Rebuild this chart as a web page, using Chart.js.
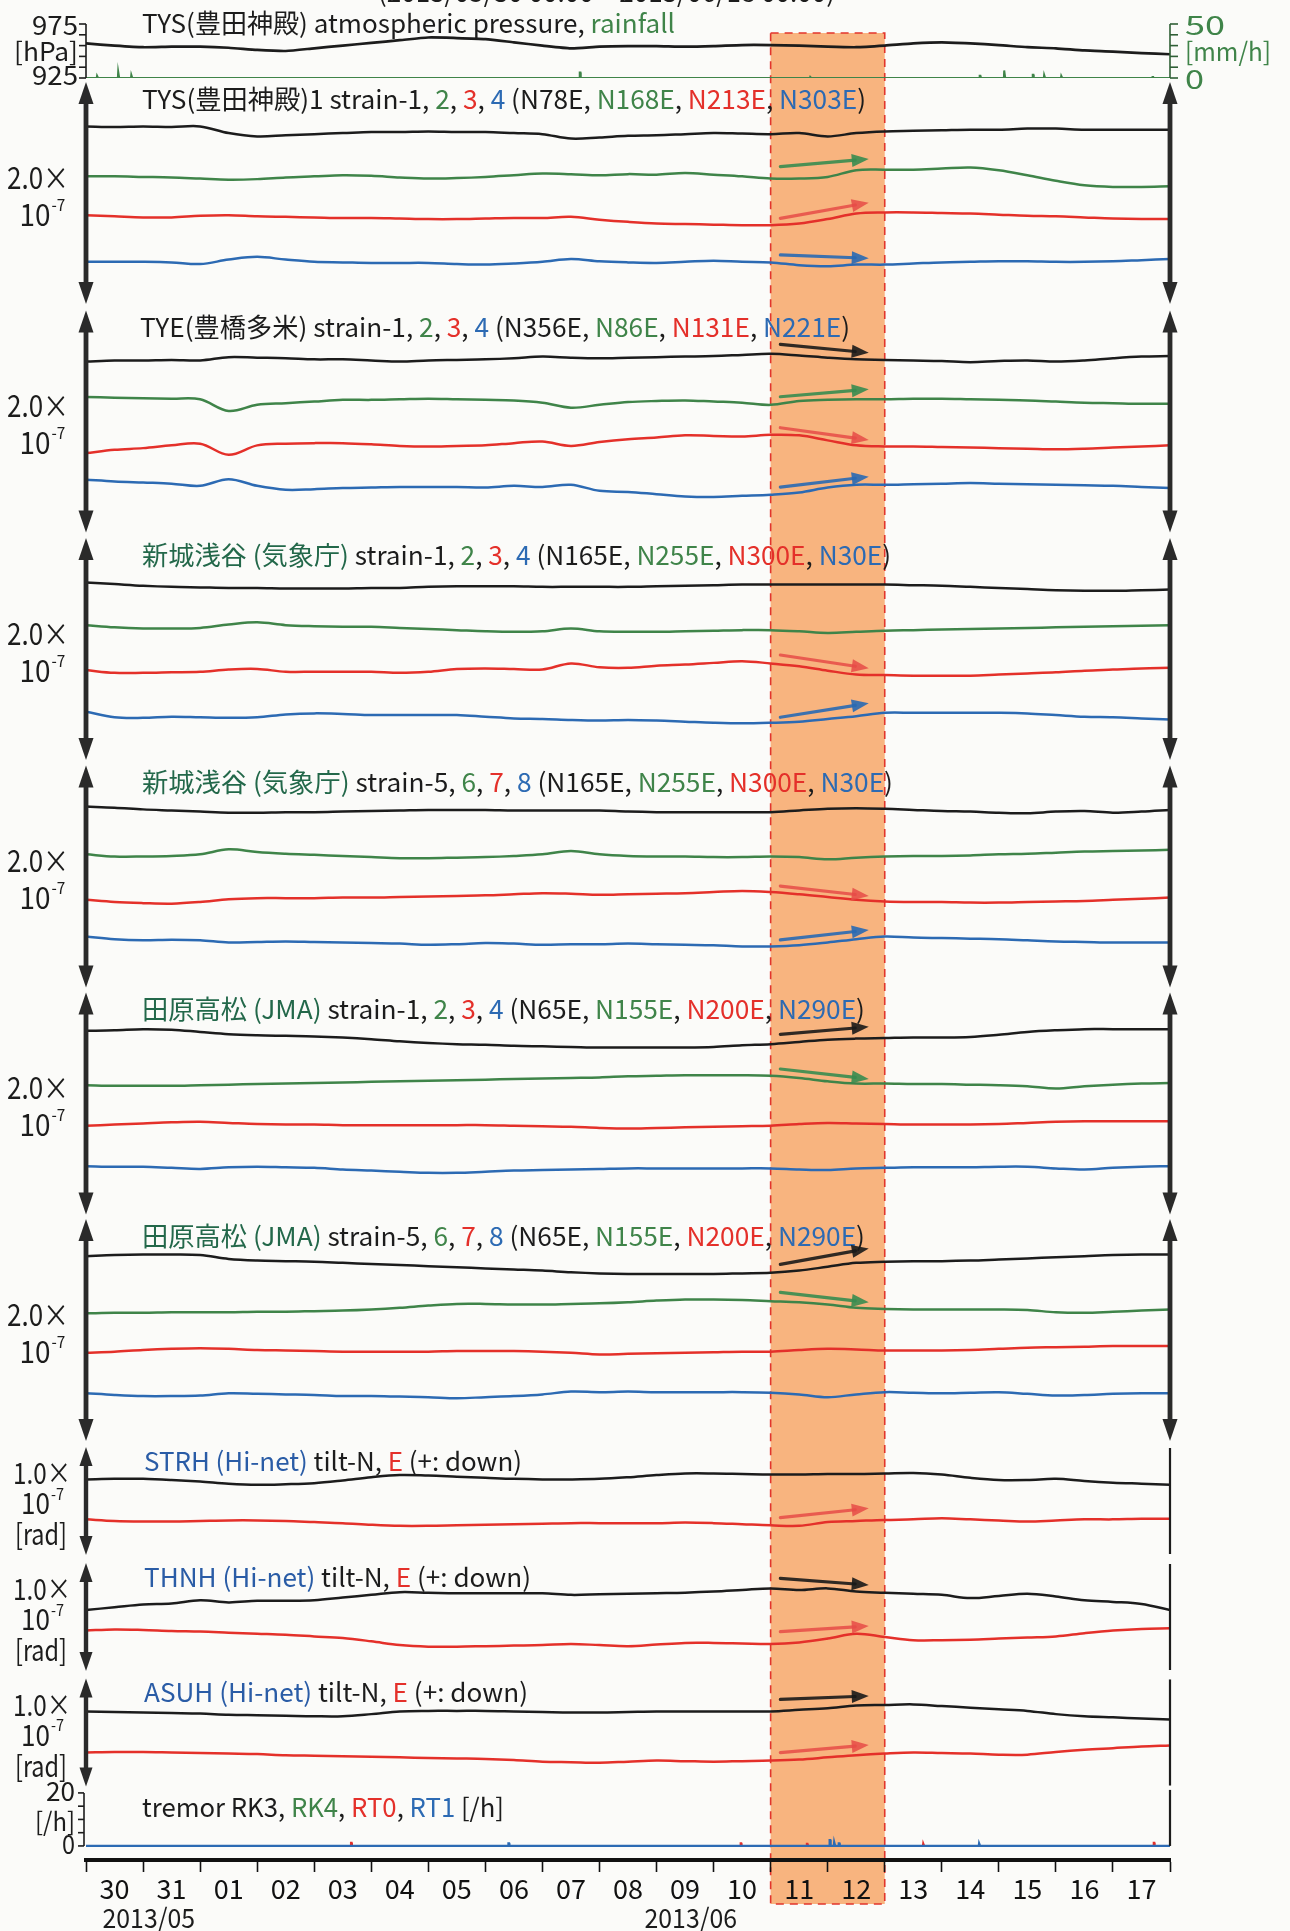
<!DOCTYPE html>
<html>
<head>
<meta charset="utf-8">
<title>TYS / TYE / 新城浅谷 / 田原高松 strain, Hi-net tilt, tremor 2013/05/30 – 2013/06/18</title>
<script src="https://cdn.jsdelivr.net/npm/chart.js@4.4.1/dist/chart.umd.min.js"></script>
<style>
html,body{margin:0;padding:0;background:#fbfbf9;}
canvas{display:block;}
</style>
</head>
<body>
<canvas id="chart" width="1290" height="1931"></canvas>
<script>
// ---------------- DATA ----------------
// time axis: days since 2013-05-30 00:00 (half-day sampling)
const t = [0,0.5,1,1.5,2,2.5,3,3.5,4,4.5,5,5.5,6,6.5,7,7.5,8,8.5,9,9.5,10,10.5,11,11.5,12,12.5,13,13.5,14,14.5,15,15.5,16,16.5,17,17.5,18,18.5,19];
const dayLabels = ['30','31','01','02','03','04','05','06','07','08','09','10','11','12','13','14','15','16','17'];
const monthLabels = ['2013/05','2013/06'];
const monthLabelDays = [1.1, 10.6];
const eventFrom = 12, eventTo = 14;   // highlighted period (2013/06/11 – 06/12)

// TYS atmospheric pressure [hPa]
const pressure = [957,955,953.5,954,954,953,951,950,952.5,955,957.5,960,962.5,962,961,958,955,952.5,954,954.5,954.5,954,954.5,955.5,955.5,955,954,953.5,955,957,958,957,955.5,953.5,952.5,950.5,949.5,948,947];
// TYS rainfall [mm/h]
const rainT  = [0.2,0.57,0.8,8.66,12.7,15.67,16.1,16.6,16.8,17.1,18.7];
const rainMm = [2,6,3,5,1,2,7,3,3,2,1];

// strain traces [1e-9], each trace offset inside its panel
const tys1 = [60,59.5,60,59.5,60,54,51,52,53,54,55,55,55.5,55,55,54,53,49,50,51.5,52,53,54,53.5,53,54,51,54,55.5,56,56.5,57,57,58,58,57,57,57,57];
const tys2 = [15,15,14.5,14,13,12,12.5,14,15,16,15.5,14,13,13.5,14.5,16,17.5,17,16,17,16.5,18,16.5,15,13,13,14.5,20.5,21,21,22,23,20.5,16,11,7,5.5,5.5,6];
const tys3 = [-20,-21,-22,-22,-20.5,-20,-21,-21.5,-22,-22.5,-22.5,-23,-23.5,-23.5,-23,-22.5,-22.5,-21.5,-24,-26,-27.5,-28,-28.5,-29,-29,-27.5,-23.5,-18.5,-17.5,-17.5,-18,-18.5,-19.5,-20.5,-21,-22,-23,-23.5,-23.5];
const tys4 = [-62,-62,-62,-62.5,-64,-60,-57.5,-60,-62,-62.5,-63,-63,-63,-64,-64.5,-63.5,-62,-59.5,-61.5,-62.5,-63,-62,-61,-62,-62.5,-65,-66,-64.5,-64.5,-63.5,-62.5,-62,-61.5,-61.5,-62,-62,-61.5,-60.5,-59.5];

const tye1 = [54,55,55,55.5,55,58,57.5,57,56,56,55,54,55,55.5,56,57,58.5,57.5,57,57.5,58,58.5,59,60,61,59.5,57.5,56,55.5,55,54.5,53.5,54.5,55,54,55,57,58.5,59];
const tye2 = [22,21.5,21,20.5,20,9.5,15,16.5,18,19.5,19.5,20,20.5,20,19.5,19,17,12.5,15,17.5,18.5,19,18,17,15,18.5,19.5,20,20,20.5,20.5,20,19.5,19,18,17,16.5,16,16];
const tye3 = [-28.5,-25.5,-24,-21.5,-20,-30,-21.5,-20,-19.5,-19.5,-20.5,-22,-22.5,-22,-21.5,-19.5,-18,-22,-18.5,-16,-14.5,-12.5,-13,-13.5,-12,-12.5,-17,-21.5,-22.5,-22.5,-23,-23.5,-24,-24.5,-25,-24.5,-23.5,-22.5,-21.5];
const tye4 = [-52.5,-54,-55,-56,-58,-52,-58,-61.5,-61,-60,-59.5,-59,-59,-59,-59.5,-58,-59,-57,-62.5,-63.5,-65.5,-67.5,-68,-67,-66,-64,-59.5,-57,-57,-56.5,-56,-55.5,-56,-56.5,-57,-57.5,-58,-59,-60];

const sns1 = [60,58.5,57,56,55.5,55,55,54.5,54.5,54.5,55,55,56,56.5,56.5,56.5,56,56,56,56,56.5,57,57.5,58,58,58,58,58,58,57.5,57,56,55,54,53,52.5,52.5,53,53.5];
const sns2 = [21.5,19.5,18.5,18.5,19,22,24,21.5,20.5,20,20,19,18,17,16,15.5,16,18.5,16,15.5,15.5,16,16.5,17,17,16,14.5,15.5,16.5,17,17.5,18,18.5,19,19.5,20,20.5,21,21.5];
const sns3 = [-19,-21.5,-21.5,-21,-20.5,-18.5,-18,-20.5,-20.5,-20.5,-20.5,-21.5,-20.5,-18,-17.5,-18,-18.5,-13,-16.5,-17,-15,-14,-12.5,-11,-13,-15.5,-19.5,-23,-23.5,-24,-24,-24,-23,-22,-21,-19.5,-18.5,-17.5,-17];
const sns4 = [-56.5,-61.5,-62,-61,-61.5,-62,-61.5,-59,-58,-58.5,-59.5,-59.5,-59.5,-59.5,-61,-62.5,-63,-64,-64.5,-64,-64.5,-65.5,-66.5,-67,-66.5,-65.5,-63,-60.5,-57.5,-57.5,-57.5,-57.5,-57.5,-58,-59.5,-61,-61.5,-62.5,-63.5];

const sns5 = [63,62,60.5,59.5,58.5,57.5,57.5,58,58,58.5,59,59.5,60,60,60,59.5,59.5,59.5,59.5,58.5,58,58,58,58,58,59.5,61,61.5,61,60,59,58.5,57.5,57,58.5,59,57.5,58.5,60];
const sns6 = [20,18,18,18.5,20,24.5,22,20.5,19.5,18.5,17.5,16.5,16.5,17,17.5,18.5,20,23,20,18.5,18,18,17.5,17.5,18,17.5,15.5,17,18,18.5,18.5,19,20,20.5,21.5,22.5,23,23.5,24];
const sns7 = [-21,-23,-24,-24.5,-23,-20.5,-19.5,-19.5,-19.5,-19,-19,-18.5,-18,-17.5,-17,-16,-15,-15.5,-16.5,-16,-15.5,-15,-14,-13,-14,-16,-18.5,-21,-22.5,-23,-23,-23.5,-23.5,-23,-22.5,-22,-21,-20,-19];
const sns8 = [-54,-56.5,-57.5,-57,-57.5,-59.5,-59,-58.5,-59,-59.5,-60,-60.5,-61.5,-61,-60,-60.5,-61.5,-61,-61,-60.5,-61,-61.5,-62,-63,-63,-62,-59.5,-56.5,-54,-55,-55.5,-56,-56.5,-57.5,-58.5,-59,-59.5,-59.5,-59.5];

const thr1 = [65.5,66,67,66.5,64.5,62.5,61.5,61,60.5,59.5,58,56,54.5,53.5,53,52,51.5,51,50.5,50.5,50.5,50.5,51,52.5,53.5,55.5,57.5,58.5,59,59.5,59.5,60,62,64.5,66,67,67,67,67];
const thr2 = [16.5,16,16,16,16.5,17,17.5,18,18.5,19,19.5,20,20.5,21,21.5,22,22.5,23,23.5,24.5,25,25.5,25.5,25.5,25,23,20,18,18,17.5,17.5,17,16.5,15.5,13.5,15.5,17,18,18.5];
const thr3 = [-20,-19,-18,-17,-16.5,-17.5,-18.5,-19,-19,-19.5,-19.5,-19.5,-19.5,-19.5,-19.5,-20,-20.5,-21,-22,-22.5,-22,-21.5,-21,-20.5,-20,-18.5,-17.5,-18,-18.5,-19,-19,-19,-18.5,-17.5,-16.5,-16,-16,-16,-16];
const thr4 = [-56.5,-57,-57,-58,-59,-57.5,-57,-57.5,-58,-59.5,-60.5,-61.5,-62.5,-62.5,-61.5,-60.5,-60,-59.5,-59,-58.5,-58.5,-58.5,-58.5,-58.5,-58.5,-59.5,-60,-58.5,-58,-57.5,-57.5,-57.5,-57,-57,-58.5,-59.5,-58,-57,-56.5];

const thr5 = [66.5,67.5,68,68,67.5,64,62.5,62,61.5,60.5,59.5,58.5,57.5,56.5,55.5,54.5,53.5,52,51,50.5,50.5,50.5,50.5,51,51.5,53.5,57,60.5,61.5,62,62,62.5,63.5,64.5,65.5,66.5,67.5,68,68];
const thr6 = [15,15.5,15.5,16,16,16,16.5,16.5,17,17.5,18.5,20,22,23.5,23.5,23,23,23.5,24,25,26.5,27.5,27.5,27,26,25,23,20,19,18.5,18.5,18.5,18.5,18,16,15.5,16.5,17.5,18.5];
const thr7 = [-20.5,-19.5,-18,-17,-16.5,-17,-18,-18.5,-19,-19.5,-19.5,-19.5,-19.5,-19,-19,-19,-19.5,-20.5,-22,-21.5,-21,-20.5,-20,-19.5,-19.5,-18,-17,-17.5,-18.5,-18.5,-18.5,-18,-17,-16,-15.5,-15,-14.5,-14.5,-14.5];
const thr8 = [-57,-58.5,-59.5,-59.5,-59,-57,-57.5,-58,-58.5,-59.5,-59.5,-60,-60.5,-61.5,-60.5,-59.5,-58,-55.5,-56,-55.5,-56,-56,-56,-56,-56.5,-58,-60.5,-58,-56,-56.5,-57,-56.5,-56,-57.5,-59,-58.5,-57.5,-57,-57];

// Hi-net tilt traces [1e-9 rad]
const strhN = [20,20.5,20.5,19.5,18,16,15,15.5,16.5,19,22,24,23.5,22.5,21.5,20.5,20,20,20.5,22,24,25.5,25.5,25,24.5,24.5,25,25,25.5,26,24.5,21.5,19.5,19.5,20.5,18.5,17,16,15];
const strhE = [-17,-18.5,-19,-19,-18.5,-18,-18,-18.5,-19.5,-20.5,-22,-23,-23,-22.5,-22,-21.5,-21,-20.5,-20.5,-20.5,-20.5,-20,-20.5,-21.5,-22.5,-23,-19.5,-18.5,-17.5,-17,-16,-17,-18,-19,-18,-17,-17,-16.5,-16.5];
const thnhN = [6.5,9,11.5,12.5,15.5,13.5,15,15,15.5,18,20.5,23,22.5,22,22,22,22,20.5,21,21.5,22,22.5,23.5,25,26.5,25,26.5,23.5,22.5,21.5,20.5,17.5,19.5,21.5,19,15.5,14,12,6.5];
const thnhE = [-12.5,-11.5,-12,-13,-13.5,-14.5,-15.5,-16.5,-18,-19.5,-22.5,-26,-27.5,-27.5,-27,-26.5,-26,-25,-26,-27,-25.5,-24,-24,-24.5,-25,-23.5,-20,-15.5,-18.5,-21.5,-21.5,-21,-20,-19,-18,-15,-12.5,-11,-10.5];
const asuhN = [19.5,19,18.5,18,17.5,16.5,16,15.5,15,15,17,19.5,20,20,20,19.5,19,18.5,18.5,19,19.5,19.5,19.5,19.5,19.5,21,22.5,25,25.5,26,24.5,23,21.5,20,17,15,14,13,12];
const asuhE = [-18.5,-18,-18,-18.5,-19,-19.5,-20,-21,-21.5,-22,-22.5,-23,-23.5,-24,-24.5,-25.5,-27,-27.5,-28,-27,-26,-26.5,-27,-26.5,-26,-25,-23,-21,-19.5,-18.5,-19,-19.5,-20.5,-20.5,-18,-16,-14.5,-13,-12];

// tremor counts [/h]
const rk3T = [], rk3N = [];
const rk4T = [], rk4N = [];
const rt0T = [4.65,11.48,12.64,14.68,18.72], rt0N = [1.2,1,0.8,1,1.2];
const rt1T = [7.41,13.04,13.12,13.2,15.66], rt1N = [1,2.2,1.5,1,1];

// annotation arrows across the highlighted period (values in panel units)
const annoFromDay = 12.17, annoToDay = 13.72;
const annoAxis  = ['y1','y1','y1','y2','y2','y2','y2','y3','y3','y4','y4','y5','y5','y6','y6','y7','y8','y8','y9','y9'];
const annoColor = ['g','r','b','k','g','r','b','r','b','r','b','k','g','k','g','r','k','r','k','r'];
const annoFrom  = [23.7,-22.8,-55.8,69.5,22.3,-5.6,-59.2,-5.4,-61.5,-8.6,-57.2,62.3,31.1,59.1,33.9,-15.4,35.8,-13.6,30.7,-18.7];
const annoTo    = [30.6,-8.7,-58.8,61.9,29,-16.7,-49.7,-17.4,-48.9,-17.6,-48.2,69.1,22.1,73.5,24.9,-6.8,29.6,-8.3,33.8,-11.6];

// ---------------- STYLE / HELPERS ----------------
const K='#1c1c1c', G='#3f8449', R='#e4302a', B='#2c6ab3';
const TG='#23684a', TB='#2a5ca6';
const FONT='"Noto Sans CJK JP","Noto Sans",sans-serif';
const ACOL={k:'rgba(25,25,25,0.9)',g:'rgba(55,140,80,0.9)',r:'rgba(230,75,70,0.85)',b:'rgba(40,105,180,0.9)'};

function series(arr){ return t.map((x,i)=>({x:x, y:arr[i]})); }
function spikes(T,V){
  const pts=[{x:0,y:0}];
  T.forEach((tt,i)=>{ pts.push({x:tt-0.012,y:0},{x:tt-0.006,y:V[i]},{x:tt+0.006,y:V[i]},{x:tt+0.012,y:0}); });
  pts.push({x:19,y:0});
  return pts;
}
function ds(label,data,color,axis,extra){
  return Object.assign({label:label,data:data,borderColor:color,backgroundColor:color,yAxisID:axis,
    borderWidth:2.5,pointRadius:0,tension:0.35,fill:false}, extra||{});
}
function hiddenY(extra){
  return Object.assign({type:'linear',position:'left',stack:'L',bounds:'data',display:true,
    grid:{display:false,drawTicks:false},border:{display:false},ticks:{display:false},
    afterFit(s){ s.width=0; }}, extra);
}

const datasets = [
  ds('RT1',spikes(rt1T,rt1N),B,'yT',{tension:0,borderWidth:2.2,order:-1}),
  ds('RT0',spikes(rt0T,rt0N),R,'yT',{tension:0,borderWidth:2}),
  ds('RK4',spikes(rk4T,rk4N),G,'yT',{tension:0,borderWidth:2}),
  ds('RK3',spikes(rk3T,rk3N),K,'yT',{tension:0,borderWidth:2}),
  ds('pressure',series(pressure),K,'yP',{borderWidth:2.7,tension:0.2}),
  ds('rainfall',spikes(rainT,rainMm),G,'yR',{tension:0,borderWidth:2}),
  ds('TYS-1',series(tys1),K,'y1'), ds('TYS-2',series(tys2),G,'y1'), ds('TYS-3',series(tys3),R,'y1'), ds('TYS-4',series(tys4),B,'y1'),
  ds('TYE-1',series(tye1),K,'y2'), ds('TYE-2',series(tye2),G,'y2'), ds('TYE-3',series(tye3),R,'y2'), ds('TYE-4',series(tye4),B,'y2'),
  ds('SNS-1',series(sns1),K,'y3'), ds('SNS-2',series(sns2),G,'y3'), ds('SNS-3',series(sns3),R,'y3'), ds('SNS-4',series(sns4),B,'y3'),
  ds('SNS-5',series(sns5),K,'y4'), ds('SNS-6',series(sns6),G,'y4'), ds('SNS-7',series(sns7),R,'y4'), ds('SNS-8',series(sns8),B,'y4'),
  ds('THR-1',series(thr1),K,'y5'), ds('THR-2',series(thr2),G,'y5'), ds('THR-3',series(thr3),R,'y5'), ds('THR-4',series(thr4),B,'y5'),
  ds('THR-5',series(thr5),K,'y6'), ds('THR-6',series(thr6),G,'y6'), ds('THR-7',series(thr7),R,'y6'), ds('THR-8',series(thr8),B,'y6'),
  ds('STRH-N',series(strhN),K,'y7'), ds('STRH-E',series(strhE),R,'y7'),
  ds('THNH-N',series(thnhN),K,'y8'), ds('THNH-E',series(thnhE),R,'y8'),
  ds('ASUH-N',series(asuhN),K,'y9'), ds('ASUH-E',series(asuhE),R,'y9')
];

// text helper: segments [[text,color],...], optional fit width
function rich(ctx,segs,x,y,size,opt){
  opt=opt||{};
  ctx.save();
  ctx.font=size+'px '+FONT;
  ctx.textBaseline=opt.baseline||'middle';
  const widths=segs.map(s=>ctx.measureText(s[0]).width);
  const total=widths.reduce((a,b)=>a+b,0);
  const sx=opt.width?opt.width/total:(opt.sx||1);
  const w=total*sx;
  let x0=x;
  if(opt.align==='right') x0=x-w; else if(opt.align==='center') x0=x-w/2;
  ctx.translate(x0,y); ctx.scale(sx,1);
  let cx=0;
  segs.forEach((s,i)=>{ ctx.fillStyle=s[1]; ctx.textAlign='left'; ctx.fillText(s[0],cx,0); cx+=widths[i]; });
  ctx.restore();
}
function pow10(ctx,xc,y,size,color){
  ctx.save();
  ctx.fillStyle=color; ctx.textBaseline='middle'; ctx.textAlign='left';
  ctx.font=size+'px '+FONT; const w1=ctx.measureText('10').width;
  ctx.font=Math.round(size*0.55)+'px '+FONT; const w2=ctx.measureText('-7').width;
  const sx=0.9, tot=(w1+w2)*sx, x0=xc-tot/2;
  ctx.translate(x0,y); ctx.scale(sx,1);
  ctx.font=size+'px '+FONT; ctx.fillText('10',0,0);
  ctx.font=Math.round(size*0.55)+'px '+FONT; ctx.fillText('-7',w1+1,-size*0.32);
  ctx.restore();
}
function dblArrow(ctx,x,yTop,yBot,color,shaftW,headW,headL,heads){
  ctx.save(); ctx.fillStyle=color;
  const top=heads?yTop+headL-1:yTop, bot=heads?yBot-headL+1:yBot;
  ctx.fillRect(x-shaftW/2,top,shaftW,bot-top);
  if(heads){
    ctx.beginPath(); ctx.moveTo(x,yTop); ctx.lineTo(x-headW/2,yTop+headL); ctx.lineTo(x+headW/2,yTop+headL); ctx.closePath(); ctx.fill();
    ctx.beginPath(); ctx.moveTo(x,yBot); ctx.lineTo(x-headW/2,yBot-headL); ctx.lineTo(x+headW/2,yBot-headL); ctx.closePath(); ctx.fill();
  }
  ctx.restore();
}
function arrowTo(ctx,x0,y0,x1,y1,color){
  const a=Math.atan2(y1-y0,x1-x0), hl=17, hw=6.5, c=Math.cos(a), s=Math.sin(a);
  ctx.save(); ctx.strokeStyle=color; ctx.fillStyle=color; ctx.lineWidth=3.2; ctx.lineCap='round';
  ctx.beginPath(); ctx.moveTo(x0,y0); ctx.lineTo(x1-hl*0.8*c,y1-hl*0.8*s); ctx.stroke();
  ctx.beginPath(); ctx.moveTo(x1,y1);
  ctx.lineTo(x1-hl*c+hw*s,y1-hl*s-hw*c); ctx.lineTo(x1-hl*c-hw*s,y1-hl*s+hw*c); ctx.closePath(); ctx.fill();
  ctx.restore();
}

const strainTitles = {
  y1:{x:142,w:724,segs:[['TYS(豊田神殿)1 strain-1, ',K],['2',G],[', ',K],['3',R],[', ',K],['4',B],[' (N78E, ',K],['N168E',G],[', ',K],['N213E',R],[', ',K],['N303E',B],[')',K]]},
  y2:{x:140,w:710,segs:[['TYE(豊橋多米) strain-1, ',K],['2',G],[', ',K],['3',R],[', ',K],['4',B],[' (N356E, ',K],['N86E',G],[', ',K],['N131E',R],[', ',K],['N221E',B],[')',K]]},
  y3:{x:142,w:749,segs:[['新城浅谷 (気象庁)',TG],[' strain-1, ',K],['2',G],[', ',K],['3',R],[', ',K],['4',B],[' (N165E, ',K],['N255E',G],[', ',K],['N300E',R],[', ',K],['N30E',B],[')',K]]},
  y4:{x:142,w:751,segs:[['新城浅谷 (気象庁)',TG],[' strain-5, ',K],['6',G],[', ',K],['7',R],[', ',K],['8',B],[' (N165E, ',K],['N255E',G],[', ',K],['N300E',R],[', ',K],['N30E',B],[')',K]]},
  y5:{x:142,w:723,segs:[['田原高松 (JMA)',TG],[' strain-1, ',K],['2',G],[', ',K],['3',R],[', ',K],['4',B],[' (N65E, ',K],['N155E',G],[', ',K],['N200E',R],[', ',K],['N290E',B],[')',K]]},
  y6:{x:142,w:723,segs:[['田原高松 (JMA)',TG],[' strain-5, ',K],['6',G],[', ',K],['7',R],[', ',K],['8',B],[' (N65E, ',K],['N155E',G],[', ',K],['N200E',R],[', ',K],['N290E',B],[')',K]]}
};
const tiltTitles = {
  y7:{w:378,segs:[['STRH (Hi-net)',TB],[' tilt-N, ',K],['E',R],[' (+: down)',K]]},
  y8:{w:387,segs:[['THNH (Hi-net)',TB],[' tilt-N, ',K],['E',R],[' (+: down)',K]]},
  y9:{w:384,segs:[['ASUH (Hi-net)',TB],[' tilt-N, ',K],['E',R],[' (+: down)',K]]}
};

const deco = {
  id:'deco',
  beforeDraw(chart){
    const ctx=chart.ctx, x=chart.scales.x;
    ctx.save();
    ctx.fillStyle='#fbfbf9'; ctx.fillRect(0,0,chart.width,chart.height);
    const xl=x.getPixelForValue(eventFrom), xr=x.getPixelForValue(eventTo);
    ctx.fillStyle='#f8b47f'; ctx.fillRect(xl,33,xr-xl,1904-33);
    ctx.strokeStyle='#e2352c'; ctx.lineWidth=1.6; ctx.setLineDash([8,6]);
    ctx.strokeRect(xl,33,xr-xl,1904-33);
    ctx.restore();
  },
  afterDraw(chart){
    const ctx=chart.ctx, S=chart.scales, xs=S.x;
    const L=chart.chartArea.left, Rt=chart.chartArea.right;
    const AC='#2a2a2a';

    // cut-off period caption at the very top
    rich(ctx,[['(2013/05/30 00:00 – 2013/06/18 00:00)',K]],378,2,26,{width:457,baseline:'alphabetic'});

    // pressure / rainfall panel
    const yP=S.yP, yR=S.yR;
    ctx.save(); ctx.strokeStyle=K; ctx.lineWidth=1.6;
    ctx.beginPath(); ctx.moveTo(L,yP.getPixelForValue(975)); ctx.lineTo(L,yP.getPixelForValue(925)); ctx.stroke();
    [975,965,955,945,935,925].forEach(v=>{const y=yP.getPixelForValue(v); ctx.beginPath(); ctx.moveTo(L-7,y); ctx.lineTo(L,y); ctx.stroke();});
    ctx.strokeStyle='#2f5f35';
    ctx.beginPath(); ctx.moveTo(Rt,yR.getPixelForValue(50)); ctx.lineTo(Rt,yR.getPixelForValue(0)); ctx.stroke();
    [0,10,20,30,40,50].forEach(v=>{const y=yR.getPixelForValue(v); ctx.beginPath(); ctx.moveTo(Rt,y); ctx.lineTo(Rt+8,y); ctx.stroke();});
    ctx.restore();
    rich(ctx,[['975',K]],78,yP.getPixelForValue(975)+1,26,{align:'right',width:46});
    rich(ctx,[['[hPa]',K]],78,yP.getPixelForValue(950),26,{align:'right',width:64});
    rich(ctx,[['925',K]],78,yP.getPixelForValue(925)-3,26,{align:'right',width:46});
    rich(ctx,[['50',G]],1185,yR.getPixelForValue(50)+1,26,{width:40});
    rich(ctx,[['[mm/h]',G]],1185,yR.getPixelForValue(25),26,{width:86});
    rich(ctx,[['0',G]],1185,yR.getPixelForValue(0)+1,26,{width:19});
    rich(ctx,[['TYS(豊田神殿) atmospheric pressure, ',K],['rainfall',G]],142,yP.top-1,26,{width:533});

    // strain panels
    Object.keys(strainTitles).forEach(id=>{
      const s=S[id], top=s.getPixelForValue(100), bot=s.getPixelForValue(-100), c=s.getPixelForValue(0);
      dblArrow(ctx,L,top,bot,AC,4.8,15,22,true);
      dblArrow(ctx,Rt,top,bot,AC,4.8,15,22,true);
      rich(ctx,[['2.0×',K]],69,c-16,31,{align:'right',width:62});
      pow10(ctx,42,c+21,31,K);
      const ti=strainTitles[id];
      rich(ctx,ti.segs,ti.x,top+17,26,{width:ti.w});
    });

    // tilt panels
    Object.keys(tiltTitles).forEach(id=>{
      const s=S[id], top=s.getPixelForValue(50), bot=s.getPixelForValue(-50), c=s.getPixelForValue(0);
      dblArrow(ctx,L,top,bot,AC,4.4,13,19,true);
      dblArrow(ctx,Rt,top+1,bot-1,K,2.2,0,0,false);
      rich(ctx,[['1.0×',K]],71,c-28,29,{align:'right',width:58});
      pow10(ctx,42,c+2,29,K);
      rich(ctx,[['[rad]',K]],41,c+33,29,{align:'center',width:52});
      rich(ctx,tiltTitles[id].segs,144,top+14,26,{width:tiltTitles[id].w});
    });

    // tremor panel
    const yT=S.yT;
    ctx.save(); ctx.strokeStyle=K; ctx.lineWidth=1.6;
    ctx.beginPath(); ctx.moveTo(L-2,yT.getPixelForValue(20)); ctx.lineTo(L-2,yT.getPixelForValue(0)); ctx.stroke();
    [0,5,10,15,20].forEach(v=>{const y=yT.getPixelForValue(v); ctx.beginPath(); ctx.moveTo(L-8,y); ctx.lineTo(L-2,y); ctx.stroke();});
    ctx.restore();
    dblArrow(ctx,Rt,yT.getPixelForValue(20)-3,yT.getPixelForValue(0),K,2.2,0,0,false);
    rich(ctx,[['20',K]],75,yT.getPixelForValue(20)-2,26,{align:'right',width:29});
    rich(ctx,[['[/h]',K]],75,yT.getPixelForValue(10)+2,26,{align:'right',width:40});
    rich(ctx,[['0',K]],75,yT.getPixelForValue(0)-2,26,{align:'right',width:13});
    rich(ctx,[['tremor RK3, ',K],['RK4',G],[', ',K],['RT0',R],[', ',K],['RT1',B],[' [/h]',K]],142,yT.getPixelForValue(20)+14,26,{width:362});

    // annotation arrows
    const ax0=xs.getPixelForValue(annoFromDay), ax1=xs.getPixelForValue(annoToDay);
    annoAxis.forEach((id,i)=>{
      const s=S[id];
      arrowTo(ctx,ax0,s.getPixelForValue(annoFrom[i]),ax1,s.getPixelForValue(annoTo[i]),ACOL[annoColor[i]]);
    });

    // month labels under the date axis
    monthLabels.forEach((m,i)=>{
      rich(ctx,[[m,K]],xs.getPixelForValue(monthLabelDays[i]),1918,27,{align:'center',sx:0.92});
    });
  }
};

new Chart(document.getElementById('chart').getContext('2d'),{
  type:'line',
  data:{datasets:datasets},
  options:{
    responsive:false, animation:false, devicePixelRatio:1,
    layout:{padding:{top:24,left:86,right:120,bottom:0}},
    plugins:{legend:{display:false},tooltip:{enabled:false}},
    scales:{
      x:{type:'linear',position:'bottom',min:0,max:19,
        afterBuildTicks(s){ s.ticks=t.map(v=>({value:v})); },
        afterFit(s){ s.height=71; },
        grid:{drawOnChartArea:false,drawTicks:true,tickLength:12,tickWidth:1.6,
          tickColor:(c)=> (c.tick && c.tick.value%1===0) ? '#111' : 'rgba(0,0,0,0)'},
        border:{display:true,color:'#111',width:4},
        ticks:{autoSkip:false,maxRotation:0,minRotation:0,padding:1,color:'#111',
          font:{family:FONT,size:27},
          callback:(v)=> (v%1===0.5) ? dayLabels[Math.floor(v)] : ''}
      },
      yP:hiddenY({min:925,max:975,stackWeight:54,weight:11}),
      y1:hiddenY({min:-103.6,max:103.6,stackWeight:230,weight:10}),
      y2:hiddenY({min:-102.3,max:102.3,stackWeight:227,weight:9}),
      y3:hiddenY({min:-102.7,max:102.7,stackWeight:228,weight:8}),
      y4:hiddenY({min:-102.3,max:102.3,stackWeight:227,weight:7}),
      y5:hiddenY({min:-102.3,max:102.3,stackWeight:227,weight:6}),
      y6:hiddenY({min:-101.8,max:101.8,stackWeight:226,weight:5}),
      y7:hiddenY({min:-53.7,max:53.7,stackWeight:116,weight:4}),
      y8:hiddenY({min:-53.7,max:53.7,stackWeight:116,weight:3}),
      y9:hiddenY({min:-53.2,max:53.2,stackWeight:115,weight:2}),
      yT:hiddenY({min:-5.3,max:21.1,stackWeight:70,weight:1}),
      yR:hiddenY({position:'right',stack:'R',min:0,max:50,stackWeight:54,weight:0}),
      yRf:hiddenY({position:'right',stack:'R',min:0,max:1,stackWeight:1782,weight:1})
    }
  },
  plugins:[deco]
});
</script>
</body>
</html>
